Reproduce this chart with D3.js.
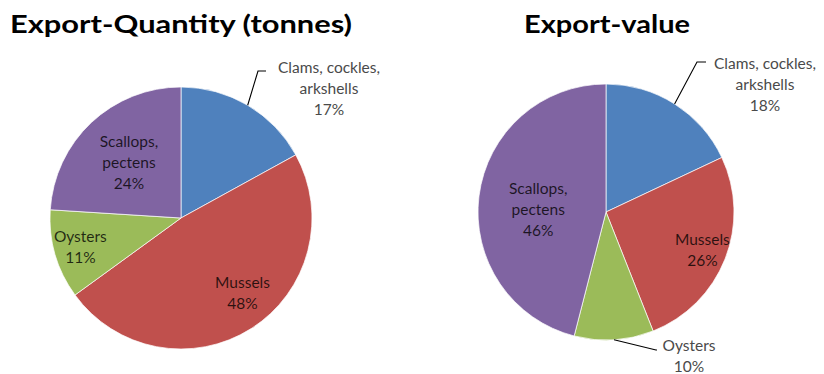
<!DOCTYPE html>
<html>
<head>
<meta charset="utf-8">
<script src="https://cdn.jsdelivr.net/npm/d3@7"></script>
<style>
  html, body { margin: 0; padding: 0; background: #fff; }
  svg { display: block; }
</style>
</head>
<body>
<svg id="chart" width="824" height="374"></svg>
<script>
// Shellfish exports by product group, shares in percent
const categories = ["Clams, cockles, arkshells", "Mussels", "Oysters", "Scallops, pectens"];
const labelLines = [["Clams, cockles,", "arkshells"], ["Mussels"], ["Oysters"], ["Scallops,", "pectens"]];
const quantityShares = [17, 48, 11, 24];
const valueShares = [18, 26, 10, 46];
const titles = ["Export-Quantity (tonnes)", "Export-value"];

const colors = d3.scaleOrdinal()
  .domain(categories)
  .range(["#4f81bd", "#c0504d", "#9bbb59", "#8064a2"]);

// Layout of the two pies and where each data label sits
const panels = [
  {
    values: quantityShares, title: titles[0],
    cx: 181, cy: 218, r: 131, titleX: 10, titleW: 342,
    labels: [
      { outside: true, elbow: [258, 71], end: [266, 71], tx: 329, ty: 68 },
      { frac: 0.74, angleShift: -7 },
      { frac: 0.80 },
      { frac: 0.58 }
    ]
  },
  {
    values: valueShares, title: titles[1],
    cx: 606, cy: 212, r: 128, titleX: 524, titleW: 166,
    labels: [
      { outside: true, elbow: [697, 62], end: [706, 62], tx: 765, ty: 64 },
      { frac: 0.81 },
      { outside: true, elbow: [656, 350], end: [657, 350], tx: 689, ty: 346 },
      { frac: 0.53, angleShift: -5 }
    ]
  }
];

const svg = d3.select("#chart");
const fontFamily = "Lato, 'Open Sans', sans-serif";
const lineH = 21;

const pie = d3.pie().sort(null).value(d => d);

panels.forEach(p => {
  const g = svg.append("g");

  // title
  g.append("text")
    .attr("x", p.titleX)
    .attr("y", 33)
    .attr("font-family", fontFamily)
    .attr("font-weight", 700)
    .attr("font-size", 25)
    .attr("fill", "#000")
    .attr("textLength", p.titleW)
    .attr("lengthAdjust", "spacingAndGlyphs")
    .text(p.title);

  const arcs = pie(p.values);
  const arc = d3.arc().innerRadius(0).outerRadius(p.r);

  const pg = g.append("g").attr("transform", `translate(${p.cx},${p.cy})`);
  pg.selectAll("path")
    .data(arcs)
    .join("path")
    .attr("d", arc)
    .attr("fill", (d, i) => colors(categories[i]))
    .attr("stroke", "#ffffff")
    .attr("stroke-width", 0.7);

  arcs.forEach((a, i) => {
    const spec = p.labels[i];
    const lines = labelLines[i].concat([a.value + "%"]);
    const mid = (a.startAngle + a.endAngle) / 2;
    let tx, ty, fill;
    if (spec.outside) {
      const ex = p.cx + p.r * Math.sin(mid);
      const ey = p.cy - p.r * Math.cos(mid);
      g.append("polyline")
        .attr("points", [[ex, ey], spec.elbow, spec.end].map(q => q.join(",")).join(" "))
        .attr("fill", "none")
        .attr("stroke", "#000")
        .attr("stroke-width", 1.1);
      tx = spec.tx; ty = spec.ty;
      fill = "#4a4a4a";
    } else {
      const ang = mid + (spec.angleShift || 0) * Math.PI / 180;
      const rr = p.r * spec.frac;
      tx = p.cx + rr * Math.sin(ang);
      ty = p.cy - rr * Math.cos(ang) - (lines.length - 1) * lineH / 2;
      fill = "rgba(0,0,0,0.78)";
    }
    const t = g.append("text")
      .attr("font-family", fontFamily)
      .attr("font-size", 15.5)
      .attr("fill", fill)
      .attr("text-anchor", "middle");
    lines.forEach((ln, k) => {
      t.append("tspan")
        .attr("x", tx)
        .attr("y", ty + k * lineH)
        .attr("dy", "0.35em")
        .text(ln);
    });
  });
});
</script>
</body>
</html>
